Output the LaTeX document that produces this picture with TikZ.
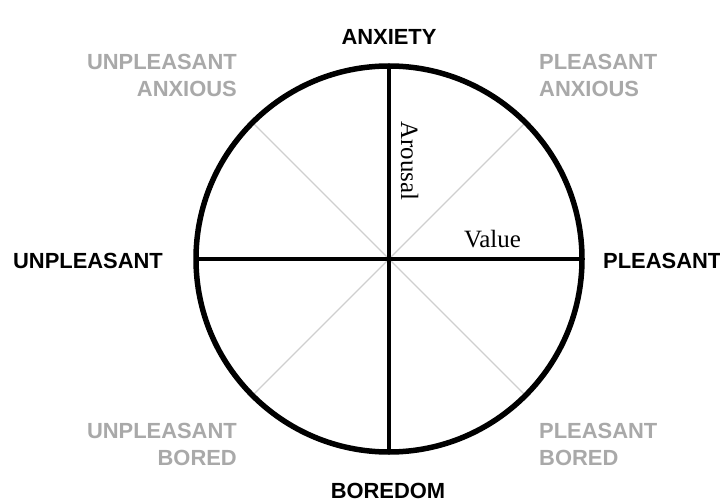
\documentclass[tikz,border=0pt]{standalone}
\usepackage{fontspec}
\newfontfamily\labfont{Liberation Sans}
\newfontfamily\serfont{Liberation Serif}
\begin{document}
\begin{tikzpicture}[x=1bp,y=-1bp,
  lab/.style={font=\labfont\bfseries\fontsize{22}{27}\selectfont, inner sep=0pt},
  dark/.style={lab, text=black},
  light/.style={lab, text=labgray},
  axis/.style={line width=4.5bp, black},
  diag/.style={line width=1.3bp, diaggray},
  serif/.style={font=\serfont\fontsize{25}{30}\selectfont, inner sep=0pt}]
\definecolor{labgray}{HTML}{A9A9A9}
\definecolor{diaggray}{HTML}{CFCFCF}
\useasboundingbox (0,0) rectangle (720,504);
\fill[white] (0,0) rectangle (720,504);
\coordinate (c) at (389,259);
\node[circle, minimum size=386bp, inner sep=0pt, outer sep=0pt] (circ) at (c) {};
% diagonals
\draw[diag] (c) -- (circ.45);
\draw[diag] (c) -- (circ.135);
\draw[diag] (c) -- (circ.225);
\draw[diag] (c) -- (circ.315);
% axes
\draw[axis] (circ.north) -- (circ.south);
\draw[axis] (circ.west) -- (circ.east);
\draw[line width=5.5bp] (c) circle[radius=193bp];
% labels
\node[dark] (anx) at (389,37) {ANXIETY};
\node[dark] (bor) at (388,491) {BOREDOM};
\node[dark] (unp) at (88,261) {UNPLEASANT};
\node[dark, anchor=west] (ple) at (603,261) {PLEASANT};
\node[light, align=right, anchor=north east] (ua) at (237,54) {UNPLEASANT\\ANXIOUS};
\node[light, align=left, anchor=north west] (pa) at (539,54) {PLEASANT\\ANXIOUS};
\node[light, align=right, anchor=north east] (ub) at (237,423) {UNPLEASANT\\BORED};
\node[light, align=left, anchor=north west] (pb) at (539,423) {PLEASANT\\BORED};
\node[serif, anchor=base] (val) at (492.5,248) {Value};
\node[serif, anchor=base, rotate=-90] (aro) at (401,161) {Arousal};
\end{tikzpicture}
\end{document}
